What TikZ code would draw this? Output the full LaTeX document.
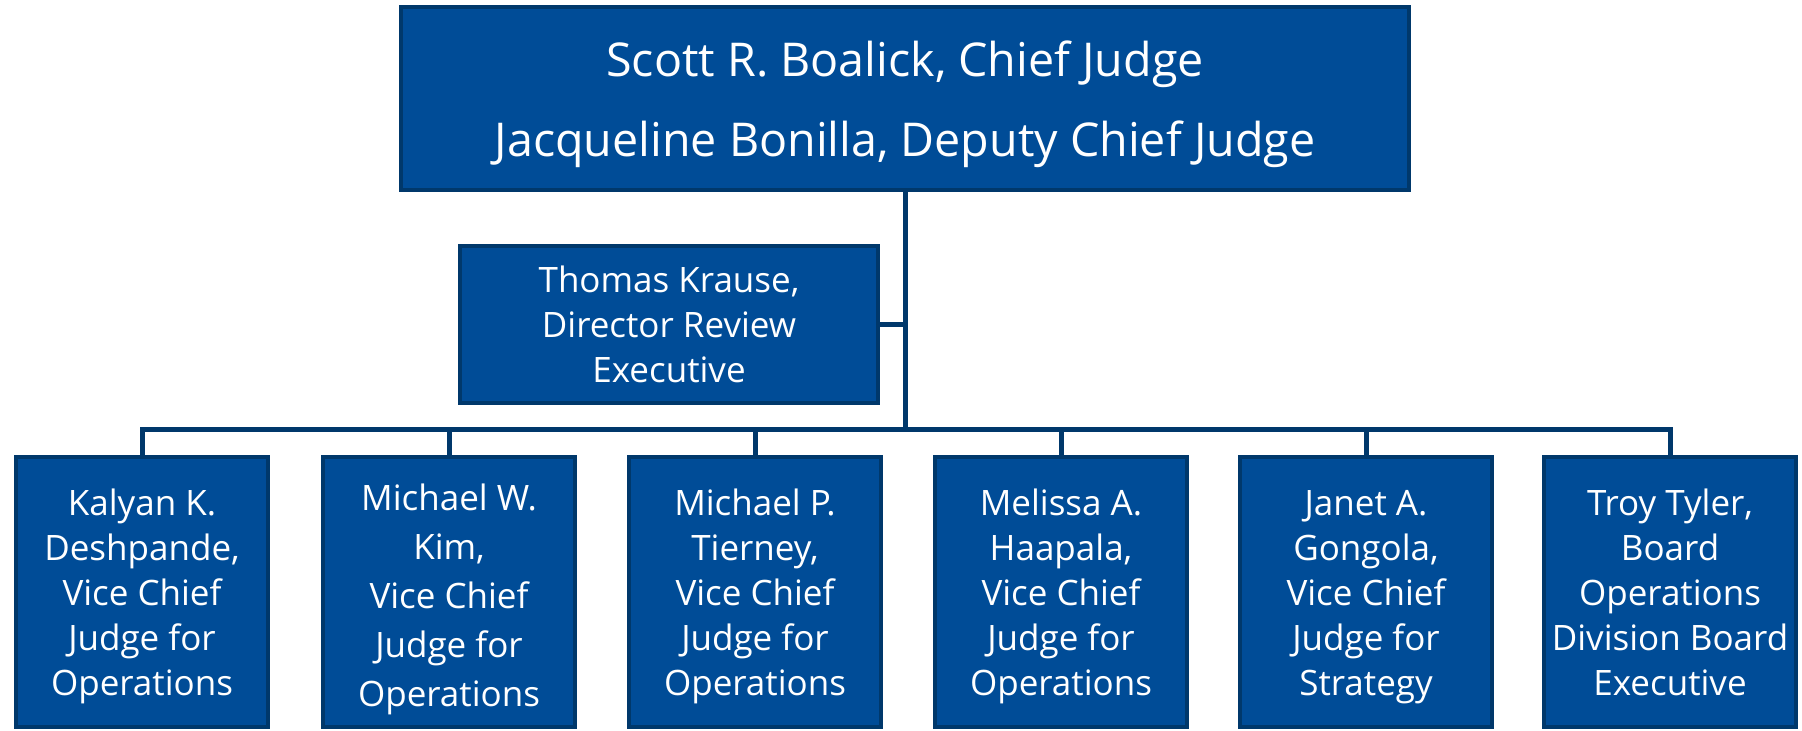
\documentclass[tikz,border=0pt]{standalone}
\usepackage{fontspec}
\setmainfont{Open Sans}
\definecolor{boxblue}{RGB}{0,76,151}
\definecolor{edgenavy}{RGB}{0,56,107}
\newcommand{\headroom}[1]{\rule{0pt}{#1}}

\begin{document}
\begin{tikzpicture}[x=.5pt, y=-.5pt,
		judge/.style={draw=edgenavy, fill=boxblue, line width=2.25pt, text=white, align=center, inner sep=0pt},
		vice/.style={judge, minimum width=126pt, minimum height=135pt, font=\fontsize{17.5}{22.5}\selectfont},
		link/.style={draw=edgenavy, line width=2.5pt}]
		\useasboundingbox(0, 0) rectangle (1802, 730);
		\node[judge, minimum width=504pt, minimum height=91.5pt, font=\fontsize{23.3}{40}\selectfont](chief) at (905, 98.5){\headroom{24pt}Scott R. Boalick, Chief Judge\\Jacqueline Bonilla, Deputy Chief Judge};
		\node[judge, minimum width=209pt, minimum height=78.5pt, font=\fontsize{17.5}{22.5}\selectfont](review) at (669, 324.5){Thomas Krause,\\Director Review\\Executive};
		\coordinate(bus) at (905, 429);
		\node[vice](v1) at (142, 592){\headroom{17.5pt}Kalyan K.\\Deshpande,\\Vice Chief\\Judge for\\Operations};
		\node[vice, font=\fontsize{17.5}{24.5}\selectfont](v2) at (449, 592){\headroom{21pt}Michael W.\\Kim,\\Vice Chief\\Judge for\\Operations};
		\node[vice](v3) at (755, 592){\headroom{17.5pt}Michael P.\\Tierney,\\Vice Chief\\Judge for\\Operations};
		\node[vice](v4) at (1061, 592){\headroom{17.5pt}Melissa A.\\Haapala,\\Vice Chief\\Judge for\\Operations};
		\node[vice](v5) at (1366, 592){\headroom{17.5pt}Janet A.\\Gongola,\\Vice Chief\\Judge for\\Strategy};
		\node[vice](v6) at (1670, 592){\headroom{14pt}Troy Tyler,\\Board\\Operations\\Division Board\\Executive};
		\draw[link](chief)--(bus);
		\draw[link](review)--(review -| chief);
		\draw[link](v1.north)|-(bus)-|(v6.north);
		\foreach \i in {2,...,5}\draw[link](v\i.north)--(v\i.north |- bus);
	\end{tikzpicture}
\end{document}
